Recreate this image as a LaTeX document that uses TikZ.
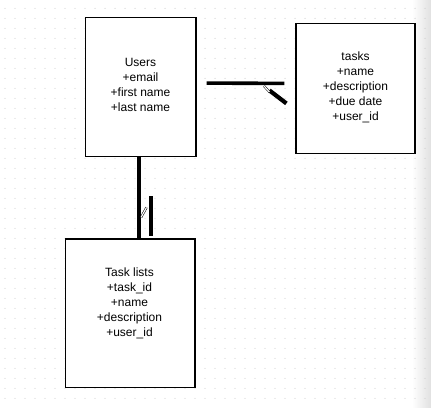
\documentclass[tikz,border=0pt]{standalone}
\usepackage{fontspec}
\setmainfont{Liberation Sans}
\usetikzlibrary{positioning}

\begin{document}
\begin{tikzpicture}[x=1pt, y=-1pt, font=\fontsize{12}{15}\selectfont,
  table/.style={draw, line width=1.2, fill=white, inner sep=0},
  fields/.style={align=center, inner sep=0},
  link/.style={line width=3.6},
  tick/.style={double, line width=0.5, double distance=1.2},
]
\useasboundingbox (0,0) rectangle (431,407);
% canvas
\shade[left color=white, right color=black!12] (412,0) rectangle (431,407);
\foreach \i in {0,...,42}
  \foreach \j in {0,...,39}
    \fill[black!22] (5+10*\i, 8.3+10*\j) circle (0.55);

\node[table, minimum width=110.5, minimum height=139.2] (users) at (140.75, 87.1) {};
\node[table, minimum width=119, minimum height=129.8] (tasks) at (355.5, 88.4) {};
\node[table, minimum width=129.5, minimum height=148.5] (tasklists) at (130.25, 313.25) {};

\node[fields] (usersfields) at (140.5, 85) {Users\\+email\\+first name\\+last name};
\node[fields] (tasksfields) at (355.5, 87.8) {tasks\\+name\\+description\\+due date\\+user\_id};
\node[fields] (tasklistsfields) at (129.5, 303.8) {Task lists\\+task\_id\\+name\\+description\\+user\_id};

% users - tasks
\coordinate (hstart) at ([shift={(10,-4)}]users.east);
\coordinate (hend) at ([shift={(-11,-5)}]tasks.west);
\draw[link] (hstart) -- (hend);
\draw[link, line width=4.2] ([shift={(-15,7)}]hend) -- ([shift={(2,20)}]hend);
\draw[tick] ([shift={(-20.5,2.5)}]hend) -- ([shift={(-15,8.5)}]hend);

% users - task lists
\coordinate (vstart) at ([xshift=-2]users.south);
\coordinate (vend) at (vstart |- tasklists.north);
\draw[link] (vstart) -- (vend);
\draw[link] ([shift={(12,-42.3)}]vend) -- ([shift={(12,-2.3)}]vend);
\draw[tick] ([shift={(2.3,-21)}]vend) -- ([shift={(7.8,-31)}]vend);
\end{tikzpicture}
\end{document}
